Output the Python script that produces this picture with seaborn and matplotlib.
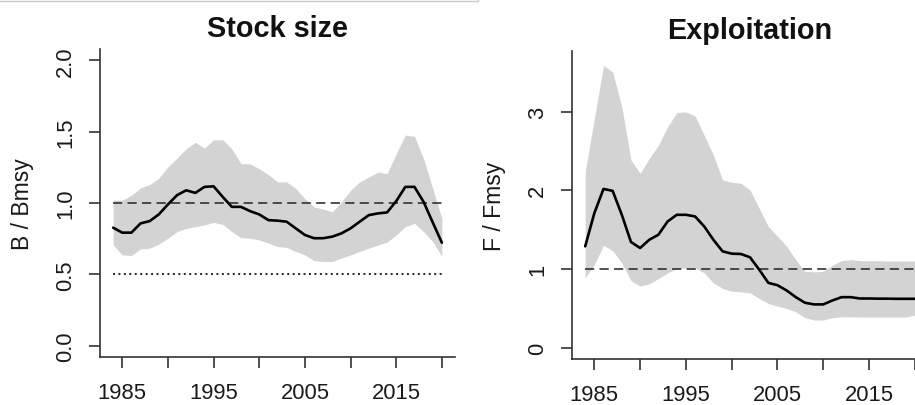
import numpy as np
import pandas as pd
import matplotlib
matplotlib.use("Agg")
import matplotlib.pyplot as plt
from matplotlib.lines import Line2D
import seaborn as sns

years = list(range(1984, 2021))

# Stock size B/Bmsy
b_median = [0.827, 0.792, 0.792, 0.857, 0.873, 0.920, 0.990, 1.055, 1.089, 1.071,
            1.113, 1.117, 1.043, 0.973, 0.973, 0.943, 0.920, 0.880, 0.876, 0.869,
            0.822, 0.776, 0.753, 0.753, 0.764, 0.787, 0.822, 0.869, 0.915, 0.927,
            0.934, 1.013, 1.113, 1.113, 1.008, 0.864, 0.722]
b_upper = [1.020, 1.020, 1.055, 1.106, 1.129, 1.175, 1.252, 1.315, 1.380, 1.426,
           1.384, 1.443, 1.443, 1.380, 1.275, 1.275, 1.240, 1.199, 1.148, 1.148,
           1.101, 1.031, 0.973, 0.957, 0.938, 1.008, 1.089, 1.148, 1.182, 1.217,
           1.206, 1.345, 1.477, 1.468, 1.310, 1.101, 0.892]
b_lower = [0.706, 0.636, 0.632, 0.678, 0.683, 0.711, 0.753, 0.799, 0.822, 0.834,
           0.846, 0.864, 0.850, 0.799, 0.757, 0.753, 0.741, 0.718, 0.695, 0.688,
           0.660, 0.636, 0.595, 0.590, 0.590, 0.613, 0.636, 0.660, 0.683, 0.706,
           0.725, 0.776, 0.834, 0.857, 0.799, 0.729, 0.625]

# Exploitation F/Fmsy
f_median = [1.287, 1.709, 2.017, 1.992, 1.688, 1.342, 1.266, 1.371, 1.435, 1.603,
            1.688, 1.688, 1.667, 1.540, 1.371, 1.224, 1.194, 1.190, 1.148, 0.992,
            0.823, 0.793, 0.726, 0.641, 0.570, 0.549, 0.549, 0.599, 0.641, 0.641,
            0.624, 0.624, 0.622, 0.622, 0.620, 0.620, 0.620]
f_upper = [2.236, 2.911, 3.586, 3.502, 3.059, 2.384, 2.215, 2.405, 2.574, 2.806,
           2.987, 2.996, 2.945, 2.700, 2.447, 2.131, 2.101, 2.089, 2.004, 1.772,
           1.540, 1.414, 1.287, 1.118, 0.970, 0.962, 0.970, 1.046, 1.105, 1.118,
           1.105, 1.105, 1.105, 1.100, 1.100, 1.100, 1.100]
f_lower = [0.886, 1.055, 1.300, 1.232, 1.076, 0.852, 0.781, 0.810, 0.878, 0.949,
           1.004, 1.013, 1.013, 0.949, 0.823, 0.751, 0.717, 0.709, 0.696, 0.624,
           0.561, 0.527, 0.498, 0.456, 0.380, 0.350, 0.350, 0.380, 0.392, 0.392,
           0.388, 0.388, 0.388, 0.388, 0.388, 0.388, 0.414]

x_ticks = [1985, 1990, 1995, 2000, 2005, 2010, 2015, 2020]
x_ticklabels = ["1985", "", "1995", "", "2005", "", "2015", ""]
b_yticks = [0.0, 0.5, 1.0, 1.5, 2.0]
b_yticklabels = ["0.0", "0.5", "1.0", "1.5", "2.0"]
f_yticks = [0, 1, 2, 3]
f_yticklabels = ["0", "1", "2", "3"]

sns.set_style("ticks")
plt.rcParams["font.family"] = ["Liberation Sans", "DejaVu Sans"]

W, H = 915, 406
fig = plt.figure(figsize=(W / 100, H / 100), dpi=100)

def px_axes(x0, x1, y0, y1):
    return fig.add_axes([x0 / W, 1 - y1 / H, (x1 - x0) / W, (y1 - y0) / H])

ax1 = px_axes(100, 455, 50, 358)
ax2 = px_axes(572, 928, 52, 360)

FILL = "#d3d3d3"
AXC = "#333333"

def style(ax, yticks, yticklabels, ylabel, title, ylim):
    ax.set_xlim(1982.56, 2021.44)
    ax.set_ylim(*ylim)
    ax.set_xticks(x_ticks)
    ax.set_xticklabels(x_ticklabels)
    ax.set_yticks(yticks)
    ax.set_yticklabels(yticklabels, rotation=90, va="center", ha="center")
    for s in ["top", "right"]:
        ax.spines[s].set_visible(False)
    for s in ["left", "bottom"]:
        ax.spines[s].set_color(AXC)
        ax.spines[s].set_linewidth(1.2)
    ax.tick_params(axis="both", direction="out", length=7.8, width=1.2,
                   color=AXC, labelsize=15.8, labelcolor="#1a1a1a")
    ax.tick_params(axis="x", pad=10)
    ax.tick_params(axis="y", pad=17)
    ax.set_xlabel("")
    ax.set_ylabel(ylabel, fontsize=16.5, color="#1a1a1a", va="center", ha="center")
    ax.yaxis.set_label_coords(-0.218, 0.5)
    ax.grid(False)
    ax.text(0.5, 1 + 13 / 308, title, transform=ax.transAxes, ha="center",
            va="baseline", fontsize=20.8, fontweight="bold", color="#111111")

# Left panel
dfb = pd.DataFrame({"year": years, "median": b_median, "lo": b_lower, "hi": b_upper})
ax1.fill_between(dfb["year"], dfb["lo"], dfb["hi"], color=FILL, linewidth=0, zorder=1)
ax1.plot([years[0], years[-1]], [1.0, 1.0], color="#222222", lw=1.1,
         dashes=(6, 3.5), zorder=2)
ax1.plot([years[0], years[-1]], [0.5, 0.5], color="#222222", lw=1.4,
         dashes=(1, 1.8), zorder=2)
sns.lineplot(data=dfb, x="year", y="median", ax=ax1, color="black", lw=1.9, zorder=3)
style(ax1, b_yticks, b_yticklabels, "B / Bmsy", "Stock size", (-0.08, 2.08))

# Right panel
dff = pd.DataFrame({"year": years, "median": f_median, "lo": f_lower, "hi": f_upper})
ax2.fill_between(dff["year"], dff["lo"], dff["hi"], color=FILL, linewidth=0, zorder=1)
ax2.plot([years[0], years[-1]], [1.0, 1.0], color="#222222", lw=1.1,
         dashes=(6, 3.5), zorder=2)
sns.lineplot(data=dff, x="year", y="median", ax=ax2, color="black", lw=1.9, zorder=3)
style(ax2, f_yticks, f_yticklabels, "F / Fmsy", "Exploitation", (-0.145, 3.77))

# faint screenshot border at top
fig.add_artist(Line2D([0, 478 / W, 478 / W], [1 - 2 / H, 1 - 2 / H, 1.0],
                      transform=fig.transFigure, color="#c8c8c8", lw=1.0))

fig.savefig("out.png", dpi=100)
